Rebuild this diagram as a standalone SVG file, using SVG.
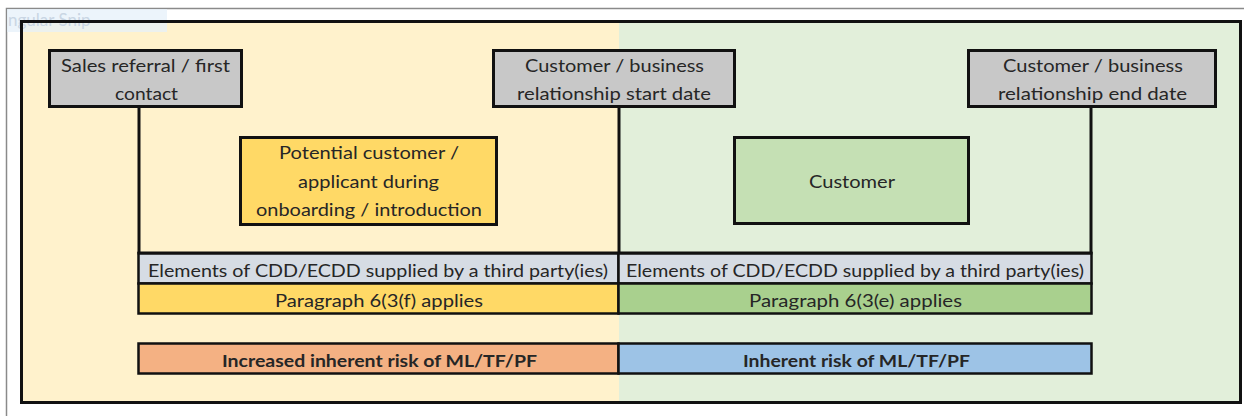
<svg xmlns="http://www.w3.org/2000/svg" width="1244" height="416" viewBox="0 0 1244 416">
<style>
text{font-family:Lato,"Liberation Sans",sans-serif;font-size:17px;fill:#262626;text-anchor:middle}
.b{font-weight:bold}
.box{stroke:#111;stroke-width:3}
.gray{fill:#C8C8C8}
.conn{stroke:#111;stroke-width:3;fill:none}
.row{stroke:#111;stroke-width:2.5}
</style>
<rect x="0" y="0" width="1244" height="416" fill="#fff"/>
<path d="M6.5 416V8.5H1244" fill="none" stroke="#8a8a8a" stroke-width="1.5"/>
<rect x="21" y="21" width="598" height="382" fill="#FFF2CC"/>
<rect x="619" y="21" width="622" height="382" fill="#E2EFDA"/>
<rect x="7" y="9" width="160" height="23" fill="#E6F0FA" fill-opacity="0.75"/>
<text x="8" y="26" style="text-anchor:start;fill:#C9D6E4">ngular Snip</text>
<rect x="21.5" y="21.5" width="1219" height="381" fill="none" stroke="#111" stroke-width="3"/>
<g id="connectors">
<path class="conn" d="M139 107V253"/>
<path class="conn" d="M619 107V253"/>
<path class="conn" d="M1091 107V253"/>
<path class="conn" d="M137.5 253H1092.5"/>
</g>
<g id="node-sales">
<rect class="box gray" x="49.5" y="50.5" width="192" height="56"/>
<text x="145.5" y="72" textLength="169" lengthAdjust="spacingAndGlyphs">Sales referral / first</text>
<text x="146.5" y="100" textLength="63" lengthAdjust="spacingAndGlyphs">contact</text>
</g>
<g id="node-start">
<rect class="box gray" x="493.5" y="50.5" width="241" height="56"/>
<text x="614.5" y="72" textLength="179" lengthAdjust="spacingAndGlyphs">Customer / business</text>
<text x="614" y="100" textLength="194" lengthAdjust="spacingAndGlyphs">relationship start date</text>
</g>
<g id="node-end">
<rect class="box gray" x="968.5" y="50.5" width="247" height="56"/>
<text x="1093" y="72" textLength="180" lengthAdjust="spacingAndGlyphs">Customer / business</text>
<text x="1092.5" y="100" textLength="189" lengthAdjust="spacingAndGlyphs">relationship end date</text>
</g>
<g id="node-potential">
<rect class="box" x="240.5" y="137.5" width="256" height="87" fill="#FFD966"/>
<text x="369" y="159" textLength="180" lengthAdjust="spacingAndGlyphs">Potential customer /</text>
<text x="368.5" y="188" textLength="141" lengthAdjust="spacingAndGlyphs">applicant during</text>
<text x="369" y="216" textLength="226" lengthAdjust="spacingAndGlyphs">onboarding / introduction</text>
</g>
<g id="node-customer">
<rect class="box" x="734.5" y="137.5" width="234" height="86" fill="#C5E0B4"/>
<text x="852" y="188" textLength="86" lengthAdjust="spacingAndGlyphs">Customer</text>
</g>
<g id="node-cdd-left">
<rect class="row" x="138.5" y="253.5" width="480" height="30" fill="#D6DCE4"/>
<text x="378" y="277" textLength="460" lengthAdjust="spacingAndGlyphs">Elements of CDD/ECDD supplied by a third party(ies)</text>
</g>
<g id="node-cdd-right">
<rect class="row" x="618.5" y="253.5" width="473" height="30" fill="#D6DCE4"/>
<text x="855" y="277" textLength="458" lengthAdjust="spacingAndGlyphs">Elements of CDD/ECDD supplied by a third party(ies)</text>
</g>
<g id="node-para-f">
<rect class="row" x="138.5" y="283.5" width="480" height="30" fill="#FFD966"/>
<text x="379" y="307" textLength="208" lengthAdjust="spacingAndGlyphs">Paragraph 6(3(f) applies</text>
</g>
<g id="node-para-e">
<rect class="row" x="618.5" y="283.5" width="473" height="30" fill="#A9D08E"/>
<text x="855.5" y="307" textLength="213" lengthAdjust="spacingAndGlyphs">Paragraph 6(3(e) applies</text>
</g>
<g id="node-risk-increased">
<rect class="row" x="138.5" y="343.5" width="480" height="30" fill="#F4B183"/>
<text class="b" x="379.5" y="367" textLength="315" lengthAdjust="spacingAndGlyphs">Increased inherent risk of ML/TF/PF</text>
</g>
<g id="node-risk">
<rect class="row" x="618.5" y="343.5" width="473" height="30" fill="#9DC3E6"/>
<text class="b" x="856.5" y="367" textLength="227" lengthAdjust="spacingAndGlyphs">Inherent risk of ML/TF/PF</text>
</g>
</svg>
